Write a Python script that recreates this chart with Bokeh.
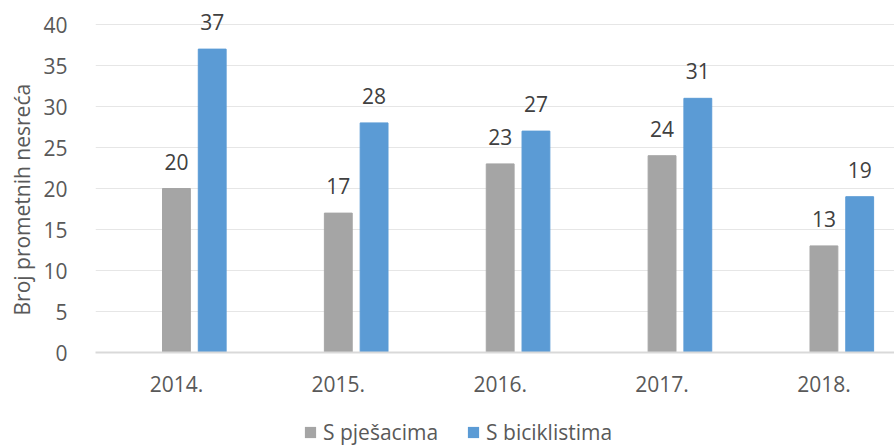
from bokeh.plotting import figure
from bokeh.layouts import column
from bokeh.models import Range1d, ColumnDataSource, Legend, LegendItem, FixedTicker, Title
from bokeh.core.properties import value
from bokeh.embed import file_html
from bokeh.resources import INLINE

years = ["2014.", "2015.", "2016.", "2017.", "2018."]
pjesaci = [20, 17, 23, 24, 13]
biciklisti = [37, 28, 27, 31, 19]
series_names = ["S pješacima", "S biciklistima"]
colors = ["#A5A5A5", "#5B9BD5"]
y_ticks = [0, 5, 10, 15, 20, 25, 30, 35, 40]

FONT = "Open Sans"
idx = [i + 0.5 for i in range(len(years))]
off = 0.221
bw = 0.172

p = figure(width=894, height=400, output_backend="svg", toolbar_location=None,
           x_range=Range1d(0, 4.936), y_range=Range1d(0, 42.93),
           min_border_left=90, min_border_right=0, min_border_top=0, min_border_bottom=48)
p.outline_line_color = None
p.background_fill_color = "white"
p.border_fill_color = "white"

src = ColumnDataSource(dict(
    x1=idx, x2=[v + off for v in idx], a=pjesaci, b=biciklisti,
    la=[str(v) for v in pjesaci], lb=[str(v) for v in biciklisti]))

p.vbar(x="x1", top="a", width=bw, source=src, fill_color=colors[0], line_color=colors[0])
p.vbar(x="x2", top="b", width=bw, source=src, fill_color=colors[1], line_color=colors[1])

p.text(x="x1", y="a", text="la", source=src, text_align="center", text_baseline="alphabetic",
       y_offset=-27, text_font=value(FONT), text_font_size="21px", text_color="#404040")
p.text(x="x2", y="b", text="lb", source=src, text_align="center", text_baseline="alphabetic",
       y_offset=-27, text_font=value(FONT), text_font_size="21px", text_color="#404040")

# axes
p.xaxis.ticker = FixedTicker(ticks=idx)
p.xaxis.major_label_overrides = {v: years[i] for i, v in enumerate(idx)}
p.xaxis.axis_line_color = "#D9D9D9"
p.xaxis.axis_line_width = 2
p.xaxis.major_tick_line_color = None
p.xaxis.minor_tick_line_color = None
p.xaxis.major_label_standoff = 17
p.xaxis.major_label_text_font = FONT
p.xaxis.major_label_text_font_size = "21px"
p.xaxis.major_label_text_color = "#595959"

p.yaxis.ticker = FixedTicker(ticks=y_ticks)
p.yaxis.axis_line_color = None
p.yaxis.major_tick_line_color = None
p.yaxis.minor_tick_line_color = None
p.yaxis.major_label_standoff = 22
p.yaxis.major_label_text_font = FONT
p.yaxis.major_label_text_font_size = "21px"
p.yaxis.major_label_text_color = "#595959"

ytitle = Title(text="Broj prometnih nesreća", align="left", offset=37, standoff=10,
               text_font=FONT, text_font_size="21px", text_font_style="normal",
               text_color="#595959")
p.add_layout(ytitle, "left")

p.xgrid.grid_line_color = None
p.ygrid.grid_line_color = "#E6E6E6"
p.ygrid.grid_line_width = 1

# legend strip below the chart (its bars lie far outside its visible range)
lg = figure(width=894, height=46, output_backend="svg", toolbar_location=None,
            x_range=Range1d(0, 1), y_range=Range1d(1000, 1001), min_border=0)
lg.axis.visible = False
lg.grid.grid_line_color = None
lg.outline_line_color = None
k1 = lg.vbar(x="x1", top="a", width=bw, source=src, fill_color=colors[0], line_color=None)
k2 = lg.vbar(x="x2", top="b", width=bw, source=src, fill_color=colors[1], line_color=None)
legend = Legend(items=[LegendItem(label=series_names[0], renderers=[k1]),
                       LegendItem(label=series_names[1], renderers=[k2])],
                location=(208, 0), orientation="horizontal",
                glyph_width=14, glyph_height=14, label_standoff=6, spacing=28,
                padding=0, margin=0, border_line_color=None, background_fill_alpha=0,
                label_text_font=FONT, label_text_font_size="21px", label_text_color="#595959")
lg.add_layout(legend, "center")

open("out.html", "w").write(file_html(column(p, lg, spacing=0), INLINE))
